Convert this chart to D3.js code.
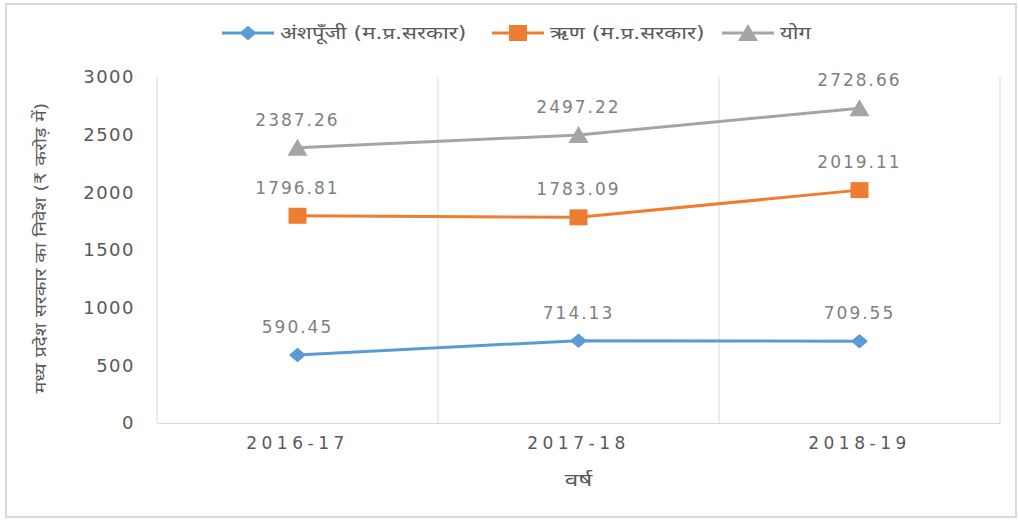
<!DOCTYPE html>
<html>
<head>
<meta charset="utf-8">
<script src="https://cdn.jsdelivr.net/npm/d3@7"></script>
<style>
  body { margin: 0; background: #fff; }
  text { font-family: "DejaVu Sans", "Noto Sans", sans-serif; }
</style>
</head>
<body>
<div id="output"></div>
<script>
var years = ['2016-17', '2017-18', '2018-19'];
var equity = [590.45, 714.13, 709.55];
var loan = [1796.81, 1783.09, 2019.11];
var total = [2387.26, 2497.22, 2728.66];
var yTicks = [0, 500, 1000, 1500, 2000, 2500, 3000];
var seriesNames = ['अंशपूँजी (म.प्र.सरकार)', 'ऋण (म.प्र.सरकार)', 'योग'];

function renderGraph(){
  var width = 1018;
  var height = 522;
  var margin = {top: 77, right: 18, bottom: 99, left: 157};

  var svg = d3.select('#output')
  .append('svg')
  .attr('width', width)
  .attr('height', height);

  // outer chart border
  svg.append('rect')
  .attr('x', 6).attr('y', 4)
  .attr('width', width - 8).attr('height', height - 9)
  .attr('fill', 'none')
  .attr('stroke', '#d9d9d9')
  .attr('stroke-width', 2);

  var xScale = d3.scaleBand()
  .domain(years)
  .range([margin.left, width - margin.right]);

  var yScale = d3.scaleLinear()
  .domain([0, 3000])
  .range([height - margin.bottom, margin.top]);

  // vertical gridlines at category edges
  var edges = years.map((d) => xScale(d)).concat([xScale.range()[1]]);
  svg.append('g')
  .selectAll('line')
  .data(edges)
  .join('line')
  .attr('x1', (d) => d).attr('x2', (d) => d)
  .attr('y1', yScale(3000)).attr('y2', yScale(0))
  .attr('stroke', '#d9d9d9');

  // X-axis
  var xAxis = d3.axisBottom(xScale).tickSize(0).tickPadding(14);
  var gx = svg.append('g')
  .attr('transform', `translate(0, ${yScale(0)})`)
  .call(xAxis);
  gx.select('.domain').attr('stroke', '#d9d9d9');
  gx.selectAll('text')
  .attr('fill', '#595959')
  .style('font-size', '17px')
  .style('letter-spacing', '4.5px');

  // Y-axis
  var yAxis = d3.axisLeft(yScale).tickValues(yTicks).tickFormat(d3.format('d')).tickSize(0).tickPadding(22);
  var gy = svg.append('g')
  .attr('transform', `translate(${margin.left}, 0)`)
  .call(yAxis);
  gy.select('.domain').remove();
  gy.selectAll('text')
  .attr('fill', '#595959')
  .style('font-size', '18px')
  .style('letter-spacing', '1.5px');

  // axis titles (Devanagari is stretched a bit to match the wide original face)
  svg.append('text')
  .attr('transform', `translate(${xScale('2017-18') + xScale.bandwidth() / 2}, 486) scale(1.35, 1)`)
  .attr('text-anchor', 'middle')
  .attr('fill', '#595959')
  .style('font-size', '18px')
  .text('वर्ष');

  svg.append('text')
  .attr('transform', 'translate(46, 248) rotate(-90) scale(1.2, 1)')
  .attr('text-anchor', 'middle')
  .attr('fill', '#595959')
  .style('font-size', '16px')
  .text('मध्य प्रदेश सरकार का निवेश (₹ करोड़ में)');

  var series = [
    {name: seriesNames[0], values: equity, color: '#5b9bd5', marker: 'diamond'},
    {name: seriesNames[1], values: loan, color: '#ed7d31', marker: 'square'},
    {name: seriesNames[2], values: total, color: '#a5a5a5', marker: 'triangle'}
  ];

  var cx = (d) => xScale(d) + xScale.bandwidth() / 2;
  var line = d3.line()
  .x((d, i) => cx(years[i]))
  .y((d) => yScale(d));

  function drawMarker(g, type, color){
    if(type === 'diamond'){
      g.append('path').attr('d', 'M0,-6 L7,0 L0,6 L-7,0 Z')
      .attr('fill', color).attr('stroke', color).attr('stroke-width', 2).attr('stroke-linejoin', 'round');
    } else if(type === 'square'){
      g.append('rect').attr('x', -9).attr('y', -8).attr('width', 18).attr('height', 16).attr('fill', color);
    } else {
      g.append('path').attr('d', 'M0,-9 L10,8 L-10,8 Z').attr('fill', color);
    }
  }

  series.forEach((s) => {
    svg.append('path')
    .datum(s.values)
    .attr('d', line)
    .attr('fill', 'none')
    .attr('stroke', s.color)
    .attr('stroke-width', 3);

    s.values.forEach((v, i) => {
      var g = svg.append('g').attr('transform', `translate(${cx(years[i])}, ${yScale(v)})`);
      drawMarker(g, s.marker, s.color);
    });

    // data labels
    svg.append('g')
    .selectAll('text')
    .data(s.values)
    .join('text')
    .attr('x', (d, i) => cx(years[i]))
    .attr('y', (d) => yScale(d) - 22)
    .attr('text-anchor', 'middle')
    .attr('fill', '#7f7f7f')
    .style('font-size', '17px')
    .style('letter-spacing', '2px')
    .text((d) => d.toFixed(2));
  });

  // legend
  var legendX = [222, 492, 722];
  var legend = svg.append('g');
  series.forEach((s, i) => {
    var g = legend.append('g').attr('transform', `translate(${legendX[i]}, 33)`);
    g.append('line')
    .attr('x1', 0).attr('x2', 52)
    .attr('stroke', s.color).attr('stroke-width', 3);
    var m = g.append('g').attr('transform', 'translate(26, 0)');
    drawMarker(m, s.marker, s.color);
    g.append('text')
    .attr('transform', 'translate(58, 6) scale(1.3, 1)')
    .attr('fill', '#595959')
    .style('font-size', '17px')
    .text(s.name);
  });
}

document.addEventListener('DOMContentLoaded', renderGraph);
</script>
</body>
</html>
